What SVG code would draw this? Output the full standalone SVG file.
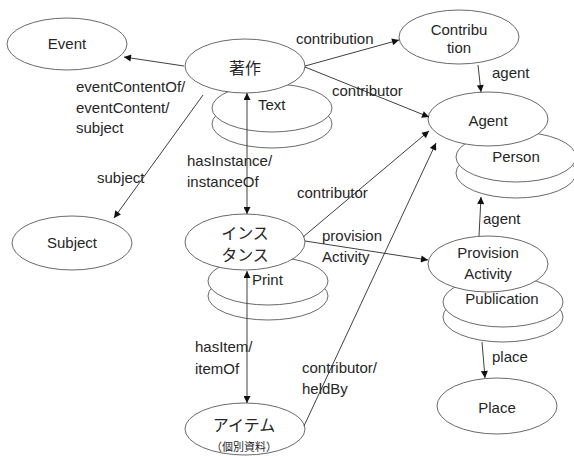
<svg xmlns="http://www.w3.org/2000/svg" width="574" height="456" viewBox="0 0 574 456">
<style>
.n{fill:#fff;stroke:#6a6a6a;stroke-width:1}
.t{font-family:"Liberation Sans",Arial,sans-serif;font-size:15px;fill:#262626}
.m{text-anchor:middle}
.j{font-family:"Noto Sans CJK JP",sans-serif;font-size:16px;fill:#262626;text-anchor:middle}
.c{fill:none;stroke:#404040;stroke-width:1}
</style>
<defs>
<marker id="a" viewBox="0 0 10 10" refX="10" refY="5" markerWidth="8" markerHeight="7" markerUnits="userSpaceOnUse" orient="auto-start-reverse">
<path d="M0,0 L10,5 L0,10 z" fill="#111"/>
</marker>
</defs>
<rect width="574" height="456" fill="#fff"/>
<g id="event"><ellipse class="n" cx="67" cy="44" rx="60" ry="26"/><text class="t m" x="67" y="49">Event</text></g>
<g id="subject"><ellipse class="n" cx="72" cy="243" rx="60" ry="27"/><text class="t m" x="72" y="248">Subject</text></g>
<g id="text"><ellipse class="n" cx="272" cy="124" rx="60" ry="24"/><ellipse class="n" cx="272" cy="108" rx="60" ry="24"/><text class="t" x="258" y="110">Text</text></g>
<g id="work"><ellipse class="n" cx="245" cy="66" rx="60" ry="27"/><text class="j" x="245" y="74">著作</text></g>
<g id="contribution"><ellipse class="n" cx="459" cy="37" rx="60" ry="27"/><text class="t m" x="459" y="35">Contribu</text><text class="t m" x="459" y="53">tion</text></g>
<g id="person"><ellipse class="n" cx="516" cy="173" rx="60" ry="25"/><ellipse class="n" cx="516" cy="157" rx="60" ry="25"/><text class="t m" x="516" y="162">Person</text></g>
<g id="agent"><ellipse class="n" cx="488" cy="119" rx="60" ry="27"/><text class="t m" x="488" y="126">Agent</text></g>
<g id="print"><ellipse class="n" cx="268" cy="296" rx="60" ry="24"/><ellipse class="n" cx="268" cy="281" rx="60" ry="24"/><text class="t" x="252" y="285">Print</text></g>
<g id="instance"><ellipse class="n" cx="245" cy="242" rx="60" ry="28"/><text class="j" x="245" y="239">インス</text><text class="j" x="245" y="261">タンス</text></g>
<g id="publication"><ellipse class="n" cx="503" cy="317" rx="60" ry="25"/><ellipse class="n" cx="503" cy="302" rx="60" ry="25"/><text class="t m" x="502" y="304">Publication</text></g>
<g id="provision"><ellipse class="n" cx="488" cy="264" rx="60" ry="28"/><text class="t m" x="488" y="258">Provision</text><text class="t m" x="488" y="279">Activity</text></g>
<g id="place"><ellipse class="n" cx="497" cy="406" rx="60" ry="28"/><text class="t m" x="497" y="413">Place</text></g>
<g id="item"><ellipse class="n" cx="245" cy="429" rx="60" ry="26"/><text class="j" x="244" y="431">アイテム</text><text class="j" x="244" y="451" style="font-size:11px">（個別資料）</text></g>
<g id="connectors">
<line class="c" x1="184" y1="66" x2="124" y2="57" marker-end="url(#a)"/>
<line class="c" x1="203" y1="95" x2="114" y2="218" marker-end="url(#a)"/>
<line class="c" x1="305" y1="66" x2="399" y2="40" marker-end="url(#a)"/>
<line class="c" x1="305" y1="67" x2="429" y2="117" marker-end="url(#a)"/>
<line class="c" x1="478" y1="65" x2="481" y2="92" marker-end="url(#a)"/>
<line class="c" x1="247" y1="93" x2="247" y2="214" marker-start="url(#a)" marker-end="url(#a)"/>
<line class="c" x1="303" y1="237" x2="429" y2="131" marker-end="url(#a)"/>
<line class="c" x1="304" y1="426" x2="436" y2="143" marker-end="url(#a)"/>
<line class="c" x1="305" y1="241" x2="428" y2="260" marker-end="url(#a)"/>
<line class="c" x1="479" y1="236" x2="481" y2="197" marker-end="url(#a)"/>
<line class="c" x1="247" y1="271" x2="247" y2="403" marker-start="url(#a)" marker-end="url(#a)"/>
<line class="c" x1="482" y1="342" x2="485" y2="378" marker-end="url(#a)"/>
<text class="t" x="76" y="92">eventContentOf/</text>
<text class="t" x="76" y="113">eventContent/</text>
<text class="t" x="76" y="133">subject</text>
<text class="t" x="97" y="183">subject</text>
<text class="t" x="296" y="44">contribution</text>
<text class="t" x="332" y="96">contributor</text>
<text class="t" x="492" y="78">agent</text>
<text class="t" x="187" y="166">hasInstance/</text>
<text class="t" x="187" y="187">instanceOf</text>
<text class="t" x="297" y="198">contributor</text>
<text class="t" x="322" y="241">provision</text>
<text class="t" x="322" y="262">Activity</text>
<text class="t" x="483" y="224">agent</text>
<text class="t" x="492" y="362">place</text>
<text class="t" x="195" y="352">hasItem/</text>
<text class="t" x="195" y="374">itemOf</text>
<text class="t" x="302" y="373">contributor/</text>
<text class="t" x="302" y="394">heldBy</text>
</g>
</svg>
